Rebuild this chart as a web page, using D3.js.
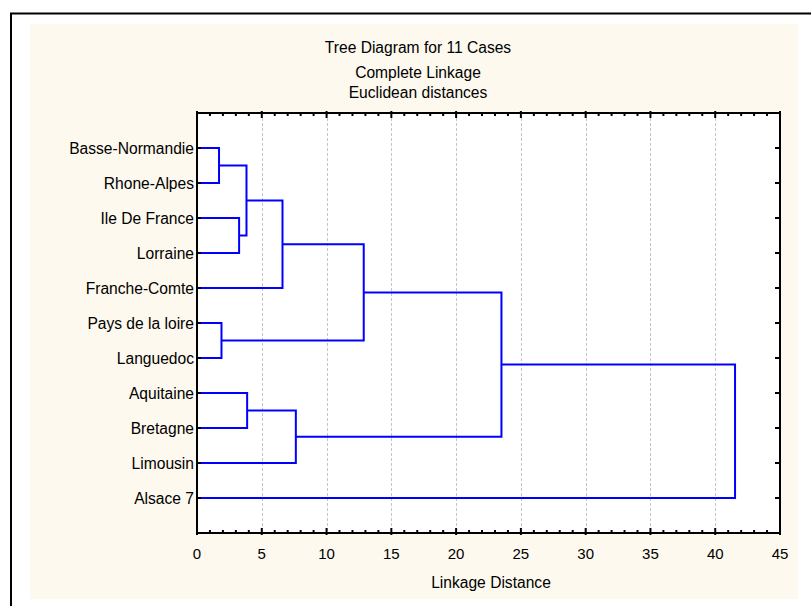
<!DOCTYPE html>
<html>
<head>
<meta charset="utf-8">
<script src="https://cdn.jsdelivr.net/npm/d3@7"></script>
<style>
  html, body { margin: 0; padding: 0; background: #ffffff; }
  svg { display: block; }
  text { font-family: "Liberation Sans", Arial, sans-serif; fill: #000; }
</style>
</head>
<body>
<svg id="chart" width="811" height="606"></svg>
<script>
// ---- data ----
const titleLines = ["Tree Diagram for 11 Cases", "Complete Linkage", "Euclidean distances"];
const xTitle = "Linkage Distance";
const cases = ["Basse-Normandie", "Rhone-Alpes", "Ile De France", "Lorraine", "Franche-Comte",
               "Pays de la loire", "Languedoc", "Aquitaine", "Bretagne", "Limousin", "Alsace 7"];
// each join creates a new cluster with id = cases.length + join index
const joinLeft   = [0, 2, 11, 13, 5, 14, 7, 17, 16, 19];
const joinRight  = [1, 3, 12, 4, 6, 15, 8, 9, 18, 10];
const joinHeight = [1.70, 3.25, 3.82, 6.60, 1.89, 12.87, 3.87, 7.63, 23.5, 41.53];
const xTickValues = [0, 5, 10, 15, 20, 25, 30, 35, 40, 45];
const xMinorValues = d3.range(0, 46, 1);

// ---- layout ----
const W = 811, H = 606;
const plot = { left: 197, right: 780, top: 113, bottom: 533 };
const svg = d3.select("#chart");

const x = d3.scaleLinear().domain([0, 45]).range([plot.left, plot.right]);
const y = d3.scaleLinear().domain([0, cases.length + 1]).range([plot.top, plot.bottom]);

// outer frame & background
svg.append("rect").attr("x", 11).attr("y", 13.5).attr("width", 900).attr("height", 700)
   .attr("fill", "#ffffff").attr("stroke", "#000").attr("stroke-width", 2);
svg.append("rect").attr("x", 30).attr("y", 24).attr("width", 768).attr("height", 575)
   .attr("fill", "#fdf9ee");
svg.append("rect").attr("x", plot.left).attr("y", plot.top)
   .attr("width", plot.right - plot.left).attr("height", plot.bottom - plot.top)
   .attr("fill", "#ffffff");

// titles
const titleY = [53, 77.7, 97.7];
svg.selectAll("text.title").data(titleLines).join("text")
   .attr("class", "title")
   .attr("x", 418).attr("y", (d, i) => titleY[i])
   .attr("text-anchor", "middle").attr("font-size", "15.6px")
   .text(d => d);

// grid lines
svg.append("g").selectAll("line").data(xTickValues.filter(v => v > 0 && v < 45)).join("line")
   .attr("x1", d => Math.round(x(d)) + 0.5).attr("x2", d => Math.round(x(d)) + 0.5)
   .attr("y1", plot.top).attr("y2", plot.bottom)
   .attr("stroke", "#c4c4c4").attr("stroke-width", 1).attr("stroke-dasharray", "3,2");

// dendrogram nodes
const nodes = cases.map((c, i) => ({ x: x(0), y: y(i + 1) }));
joinLeft.forEach((a, k) => {
  const b = joinRight[k];
  const na = nodes[a], nb = nodes[b];
  nodes.push({ x: x(joinHeight[k]), y: (na.y + nb.y) / 2, a: na, b: nb });
});
const links = nodes.filter(n => n.a);
svg.append("g").selectAll("path").data(links).join("path")
   .attr("d", n => {
     const p = d3.path();
     p.moveTo(n.a.x, n.a.y);
     p.lineTo(n.x, n.a.y);
     p.lineTo(n.x, n.b.y);
     p.lineTo(n.b.x, n.b.y);
     return p.toString();
   })
   .attr("fill", "none").attr("stroke", "#0000ff").attr("stroke-width", 2)
   .attr("stroke-linejoin", "miter");

// axes ticks
const tickG = svg.append("g").attr("stroke", "#000").attr("stroke-width", 2);
// bottom & top minor/major
xMinorValues.forEach(v => {
  const major = v % 5 === 0;
  const xx = x(v);
  tickG.append("line").attr("x1", xx).attr("x2", xx)
       .attr("y1", plot.bottom - (major ? 5 : 3)).attr("y2", plot.bottom + (major ? 2 : 0));
  tickG.append("line").attr("x1", xx).attr("x2", xx)
       .attr("y1", plot.top + (major ? 5 : 3)).attr("y2", plot.top - (major ? 2 : 0));
});
// left & right ticks at leaves
cases.forEach((c, i) => {
  const yy = y(i + 1);
  tickG.append("line").attr("x1", plot.left - 1).attr("x2", plot.left + 4).attr("y1", yy).attr("y2", yy);
  tickG.append("line").attr("x1", plot.right - 5).attr("x2", plot.right + 1).attr("y1", yy).attr("y2", yy);
});

// plot frame
svg.append("rect").attr("x", plot.left).attr("y", plot.top)
   .attr("width", plot.right - plot.left).attr("height", plot.bottom - plot.top)
   .attr("fill", "none").attr("stroke", "#000").attr("stroke-width", 2);

// x tick labels
svg.append("g").selectAll("text").data(xTickValues).join("text")
   .attr("x", d => x(d)).attr("y", 558.6)
   .attr("text-anchor", "middle").attr("font-size", "15px")
   .text(d => d);

// y labels
svg.append("g").selectAll("text").data(cases).join("text")
   .attr("x", plot.left - 3).attr("y", (d, i) => y(i + 1) + 5.6)
   .attr("text-anchor", "end").attr("font-size", "15.6px")
   .text(d => d);

// x title
svg.append("text").attr("x", 491).attr("y", 587.7)
   .attr("text-anchor", "middle").attr("font-size", "15.6px")
   .text(xTitle);
</script>
</body>
</html>
